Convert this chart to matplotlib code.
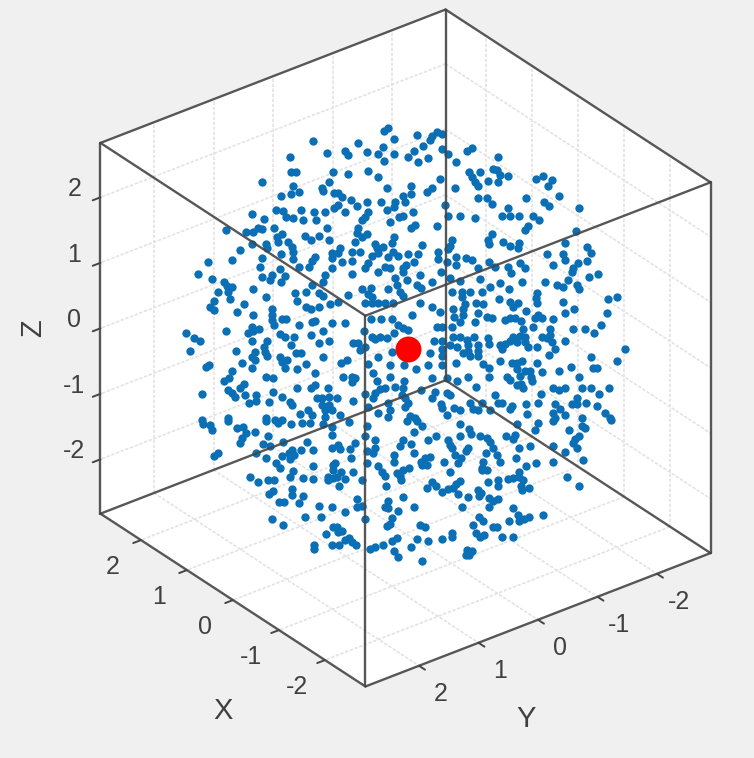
import matplotlib
matplotlib.use('Agg')
import matplotlib.pyplot as plt
import numpy as np

plt.rcParams['font.family'] = ['Liberation Sans', 'DejaVu Sans']

# dots, in image pixels (the depth is not readable)
dots_upper = [(313,141),(327,153),(290,157),(291,172),(296,172),(333,172),(329,182),(262,182),(293,186),(322,188),
(323,191),(299,192),(291,194),(281,196),(334,193),(276,210),(283,211),(286,217),(293,218),(301,210),(303,220),(314,212),
(316,220),(325,212),(334,208),(252,214),(264,219),(226,230),(246,232),(253,232),(258,228),(262,229),(274,228),(327,228),
(282,234),(277,237),(278,242),(305,236),(311,240),(319,236),(329,240),(288,242),(292,247),(293,252),(252,244),(266,244),
(267,248),(240,250),(281,254),(232,260),(208,262),(262,258),(293,259),(315,257),(312,261),(332,253),(332,258),(260,267),
(280,269),(299,267),(309,267),(332,268),
(388,128),(384,131),(394,139),(417,135),(358,143),(383,147),(345,151),(348,155),(367,152),(378,154),(394,154),(384,161),
(414,151),(408,157),(418,162),(428,158),(423,146),(430,140),(432,136),(437,132),(442,134),(442,149),(448,154),(456,162),
(467,151),(472,148),(368,171),(348,174),(378,177),(469,172),(480,172),(472,177),(475,182),(488,181),(493,169),(478,186),
(440,179),(387,188),(411,186),(455,188),(427,192),(432,188),(411,194),(403,196),(405,202),(338,193),(342,197),(351,200),
(367,202),(381,202),(395,202),(394,207),(357,206),(338,205),(345,212),(387,210),(445,205),(478,198),(487,198),(492,204),
(413,212),(403,216),(399,217),(368,212),(365,217),(362,220),(448,216),(460,216),(475,218),(390,222),(437,226),(415,225),
(411,228),(358,228),(357,233),(367,234),(362,237),(355,242),(394,237),(392,243),(375,244),(377,248),(383,247),(422,245),
(452,240),(450,246),(448,249),(492,234),(488,240),(489,244),(340,248),(338,253),(352,252),(360,252),(378,253),(372,256),
(393,252),(398,256),(388,257),(408,254),(418,254),(438,252),(438,259),(456,257),(466,258),(472,260),(447,262),(456,265),
(489,262),(368,263),(352,261),(342,262),(414,262),(406,265),(385,267),(365,268),(478,268),(403,268),(390,268),
(498,157),(497,170),(500,175),(508,176),(498,182),(536,179),(543,176),(552,180),(548,186),(526,198),(559,196),(544,202),
(549,206),(579,208),(508,208),(502,216),(510,216),(519,216),(533,216),(539,220),(528,226),(525,230),(576,231),(503,242),
(510,246),(519,243),(518,248),(565,243),(587,247),(591,253),(547,254),(563,254),(565,260),(578,263),(587,261),(520,263),
(525,268),(553,265),(508,267),(573,268),(495,267)]

dots_middle = [(198,274),(212,279),(224,282),(227,286),(232,287),(218,292),(228,292),(230,299),(253,289),(266,297),(262,277),
(270,280),(272,275),(285,276),(281,282),(295,293),(306,292),(297,301),(312,285),(319,293),(323,296),(325,275),(323,282),
(214,301),(210,307),(214,310),(244,304),(237,312),(253,315),(272,309),(272,315),(272,320),(274,325),(282,319),(286,319),
(306,307),(311,309),(319,307),(330,304),(312,322),(315,321),(299,325),(332,323),(252,327),(259,329),(253,331),(248,333),
(280,334),(285,337),(294,337),(311,335),(323,331),(186,333),(194,338),(200,341),(226,331),(252,341),(267,341),(319,343),
(329,341),(291,345),(264,347),(190,351),(236,351),(255,352),(265,352),(296,353),(301,353),(252,357),(255,360),(267,356),
(280,357),(287,360),(323,357),(282,362),(242,363),(209,365),(206,367),(285,368),(252,368),(306,364),(297,369),(232,371),
(315,373),(266,377),(273,378),(229,378),(224,381),(244,384),(315,385),(311,388),(297,388),(328,388),(228,390),(240,388),
(202,394),(273,392),(232,393),(245,395),(235,397),(256,395),(282,397),(317,398),(322,398),(329,397),(256,401),(249,403),
(269,402),(290,402),(292,405),(322,405),(329,405),(308,410),(325,410),(332,410),(300,414),(312,415),(325,417),(228,418),
(266,418),(275,420),(282,420),(202,420),
(352,274),(378,272),(403,272),(420,275),(441,272),(395,278),(407,280),(432,282),(417,285),(421,288),(450,278),(460,281),
(480,279),(490,287),(397,285),(362,289),(371,288),(388,289),(400,292),(403,296),(368,294),(372,297),(348,295),(452,292),
(462,292),(470,292),(482,292),(462,297),(338,302),(365,303),(372,303),(378,303),(385,303),(393,303),(420,303),(432,307),
(465,304),(476,303),(483,304),(440,312),(478,313),(453,309),(463,309),(412,315),(345,323),(371,319),(381,319),(392,319),
(454,317),(463,315),(460,322),(475,322),(487,317),(492,318),(398,325),(403,328),(408,330),(437,327),(442,327),(452,327),
(364,331),(394,333),(372,337),(380,337),(387,338),(375,339),(453,337),(460,337),(467,340),(474,337),(488,338),(434,341),
(442,341),(450,345),(353,343),(358,343),(365,347),(360,350),(468,345),(478,345),(489,344),(457,347),(442,349),(468,351),
(478,351),(430,353),(392,352),(463,353),(470,356),(478,356),(442,356),(378,357),(347,360),(341,363),(456,363),(368,364),
(390,365),(404,365),(428,365),(442,365),(483,364),(489,368),(416,369),(373,373),(343,377),(352,377),(355,378),(390,377),
(432,378),(468,377),(489,377),(447,378),(377,381),(352,382),(457,381),(404,381),(395,387),(476,387),(385,388),(380,389),
(375,393),(403,388),(421,390),(435,392),(447,393),(450,395),(365,394),(402,395),(432,398),(337,398),(405,398),(373,398),
(353,401),(408,403),(388,403),(470,403),(482,403),(441,404),(368,407),(405,407),(442,408),(454,408),(460,410),(473,409),
(378,413),(390,410),(340,415),(447,415),(410,416),(478,410),(415,418),(490,410),(388,417),
(598,274),(589,277),(572,272),(545,282),(522,282),(511,273),(500,283),(568,280),(557,285),(563,287),(577,285),(579,289),
(509,289),(537,293),(536,298),(537,303),(617,297),(608,299),(563,302),(499,299),(510,302),(513,307),(518,303),(574,309),
(565,313),(526,311),(607,313),(538,315),(542,318),(535,318),(553,319),(505,320),(510,318),(515,318),(521,321),(601,325),
(533,327),(523,329),(550,329),(573,329),(585,329),(594,333),(550,335),(513,337),(520,336),(525,337),(542,337),(547,338),
(565,341),(510,341),(517,342),(525,342),(505,344),(500,345),(552,342),(528,347),(537,347),(555,349),(502,349),(625,349),
(549,355),(591,357),(617,361),(500,361),(512,363),(517,363),(522,361),(537,363),(571,367),(593,368),(597,368),(517,369),
(525,371),(530,371),(559,371),(542,372),(579,377),(507,377),(510,380),(520,376),(531,377),(532,381),(517,385),(521,384),
(523,388),(553,388),(559,390),(565,388),(582,388),(591,388),(609,388),(541,394),(599,394),(577,398),(538,403),(526,404),
(502,403),(572,404),(577,404),(586,403),(555,404),(597,406),(512,406),(498,403),(510,409),(560,409),(605,413),(527,414),
(553,413),(565,415),(610,418),(582,418),(555,418),(495,395)]

dots_lower = [(203,424),(210,425),(212,430),(228,421),(237,428),(243,427),(246,433),(255,432),(242,438),(240,443),(268,436),
(263,444),(270,446),(283,442),(307,442),(266,421),(278,423),(291,424),(302,423),(310,423),(323,424),(332,427),(332,435),
(332,448),(313,450),(301,450),(292,450),(289,453),(294,455),(282,456),(290,459),(256,453),(266,458),(218,453),(214,456),
(276,463),(280,468),(313,466),(333,465),(293,471),(290,477),(303,478),(313,479),(328,477),(328,480),(333,470),(333,478),
(250,477),(258,482),(268,480),(274,480),(273,491),(269,494),(292,489),(292,495),(303,496),(279,502),(284,502),(299,503),
(319,506),(332,507),(272,519),(305,517),(321,517),(283,525),(333,527),(326,534),(332,545),(314,545),(314,549),
(349,422),(367,426),(407,421),(417,421),(422,426),(460,424),(469,429),(471,434),(414,432),(436,436),(428,440),(460,436),
(480,436),(487,438),(490,442),(365,436),(375,440),(403,440),(400,446),(411,444),(448,440),(450,445),(452,448),(468,448),
(466,451),(355,443),(338,445),(340,449),(350,449),(375,448),(367,451),(373,453),(414,453),(394,455),(394,462),(430,457),
(425,458),(421,462),(427,465),(422,465),(455,455),(461,458),(458,463),(486,453),(493,448),(444,462),(483,462),(351,458),
(335,463),(367,463),(378,466),(382,472),(385,476),(409,468),(403,470),(397,473),(400,476),(401,480),(450,472),(482,468),
(482,470),(487,470),(341,472),(353,472),(337,477),(345,479),(362,480),(339,486),(488,482),(386,486),(460,481),(456,484),
(432,482),(436,486),(427,488),(442,492),(448,489),(453,488),(458,494),(478,490),(481,493),(479,496),(468,497),(489,498),
(403,497),(357,499),(388,501),(493,501),(357,507),(362,506),(385,507),(388,508),(414,507),(462,507),(489,507),(345,512),
(398,511),(392,518),(365,519),(479,517),(483,521),(390,524),(387,526),(473,525),(493,527),(420,525),(425,527),(337,527),
(342,531),(338,532),(476,533),(480,537),(484,535),(452,533),(452,537),(442,539),(428,541),(417,539),(397,538),(392,541),
(349,538),(345,540),(352,542),(356,545),(339,545),(383,545),(375,547),(370,549),(411,547),(394,551),(398,557),(467,550),
(472,551),(466,555),(469,555),(422,561),
(517,424),(538,423),(553,421),(611,420),(535,430),(569,430),(582,426),(585,428),(506,436),(515,435),(513,439),(579,436),
(575,439),(573,443),(577,448),(553,446),(530,446),(519,448),(565,452),(497,455),(500,462),(516,458),(553,462),(536,463),
(526,466),(583,460),(519,472),(508,479),(513,478),(519,477),(523,480),(498,480),(498,486),(521,486),(522,490),(529,488),
(567,477),(579,486),(498,499),(513,508),(518,515),(519,521),(524,519),(529,517),(543,515),(509,521),(497,527),(502,537),
(513,537)]

red_dot = (408, 349)

tick_values = [-2, -1, 0, 1, 2]
x_lim = 2.88
y_lim = 2.90
z_lim = 2.83

line_col = '#454545'
grid_col = '#e3e3e3'
text_col = '#404040'
dot_col = '#0b6fb6'


def project(x, y, z):
    # the box view is orthographic, so this is linear
    return 405.5 - 46.0*x - 59.5*y, 348.0 - 30.0*x + 23.0*y - 65.5*z


def seg(ax, a, b, **kw):
    p, q = project(*a), project(*b)
    ax.plot([p[0], q[0]], [p[1], q[1]], solid_capstyle='round', **kw)


fig = plt.figure(figsize=(7.54, 7.58), dpi=100, facecolor='#f0f0f0')
ax = fig.add_axes([0, 0, 1, 1])
ax.set_xlim(0, 754)
ax.set_ylim(758, 0)
ax.axis('off')

# white hexagon of the box
outline = [(x_lim, y_lim, -z_lim), (-x_lim, y_lim, -z_lim), (-x_lim, -y_lim, -z_lim),
           (-x_lim, -y_lim, z_lim), (x_lim, -y_lim, z_lim), (x_lim, y_lim, z_lim)]
ax.fill(*zip(*[project(*p) for p in outline]), color='white', lw=0, zorder=0)

grid = dict(color=grid_col, lw=1.2, ls=(0, (2, 1)), zorder=1)
for t in tick_values:
    seg(ax, (x_lim, t, -z_lim), (x_lim, t, z_lim), **grid)
    seg(ax, (t, -y_lim, -z_lim), (t, -y_lim, z_lim), **grid)
    seg(ax, (x_lim, -y_lim, t), (x_lim, y_lim, t), **grid)
    seg(ax, (x_lim, -y_lim, t), (-x_lim, -y_lim, t), **grid)
    seg(ax, (t, -y_lim, -z_lim), (t, y_lim, -z_lim), **grid)
    seg(ax, (x_lim, t, -z_lim), (-x_lim, t, -z_lim), **grid)

all_dots = np.array(dots_upper + dots_middle + dots_lower)
ax.scatter(all_dots[:, 0], all_dots[:, 1], s=36, color=dot_col, lw=0, zorder=3)
ax.scatter([red_dot[0]], [red_dot[1]], s=350, color='#ff0000', lw=0, zorder=5)

# box edges
edge = dict(color=line_col, lw=1.7, zorder=4, alpha=0.9)
corners_edges = [
    ((x_lim, y_lim, -z_lim), (-x_lim, y_lim, -z_lim)),
    ((-x_lim, y_lim, -z_lim), (-x_lim, -y_lim, -z_lim)),
    ((x_lim, -y_lim, -z_lim), (x_lim, y_lim, -z_lim)),
    ((x_lim, -y_lim, -z_lim), (-x_lim, -y_lim, -z_lim)),
    ((x_lim, y_lim, z_lim), (x_lim, -y_lim, z_lim)),
    ((x_lim, -y_lim, z_lim), (-x_lim, -y_lim, z_lim)),
    ((x_lim, y_lim, z_lim), (-x_lim, y_lim, z_lim)),
    ((-x_lim, y_lim, z_lim), (-x_lim, -y_lim, z_lim)),
    ((x_lim, y_lim, -z_lim), (x_lim, y_lim, z_lim)),
    ((-x_lim, y_lim, -z_lim), (-x_lim, y_lim, z_lim)),
    ((-x_lim, -y_lim, -z_lim), (-x_lim, -y_lim, z_lim)),
    ((x_lim, -y_lim, -z_lim), (x_lim, -y_lim, z_lim)),
]
for a, b in corners_edges:
    seg(ax, a, b, **edge)

# ticks and their labels
tick = dict(color=line_col, lw=1.4, zorder=4)
for t in tick_values:
    seg(ax, (t, y_lim, -z_lim), (t, y_lim + 0.13, -z_lim), **tick)
    seg(ax, (-x_lim, t, -z_lim), (-x_lim - 0.13, t, -z_lim), **tick)
    seg(ax, (x_lim, y_lim, t), (x_lim, y_lim + 0.13, t), **tick)

    px, py = project(t, y_lim, -z_lim)
    ax.text(px - 28, py + 27, str(t), fontsize=18, color=text_col, ha='center', va='center')
    px, py = project(-x_lim, t, -z_lim)
    ax.text(px + 22, py + 28.5, str(t), fontsize=18, color=text_col, ha='center', va='center')
    px, py = project(x_lim, y_lim, t)
    ax.text(px - 26, py - 8, str(t), fontsize=18, color=text_col, ha='center', va='center')

ax.text(223, 711, 'X', fontsize=21, color=text_col, ha='center', va='center')
ax.text(526, 719, 'Y', fontsize=21, color=text_col, ha='center', va='center')
ax.text(33, 328, 'Z', fontsize=21, color=text_col, ha='center', va='center', rotation=90)

fig.savefig('out.png', dpi=100, facecolor=fig.get_facecolor())
